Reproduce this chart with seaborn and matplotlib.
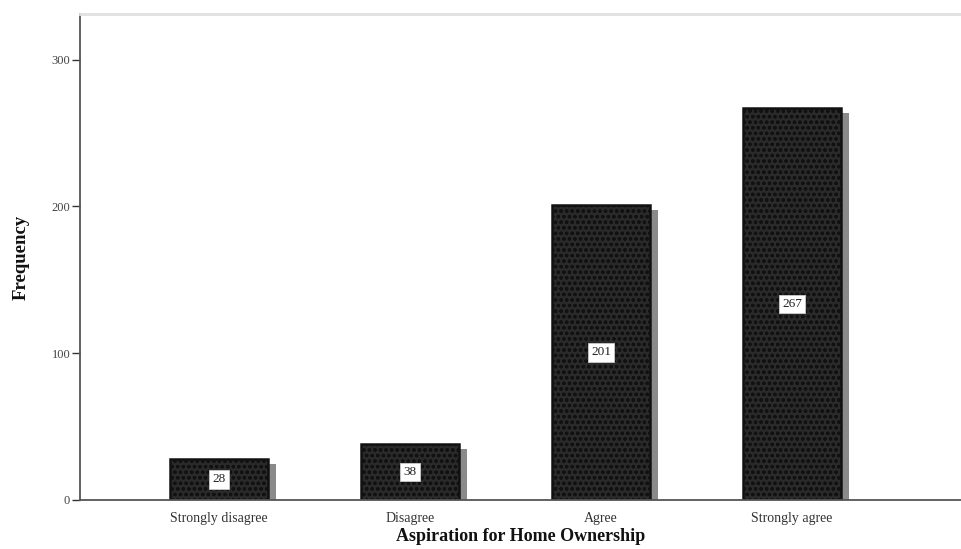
import matplotlib
matplotlib.use("Agg")
import matplotlib.pyplot as plt
import matplotlib.transforms as mtransforms
import seaborn as sns
import pandas as pd

categories = ["Strongly disagree", "Disagree", "Agree", "Strongly agree"]
frequencies = [28, 38, 201, 267]
y_ticks = [0, 100, 200, 300]

sns.set_theme(style="white")
plt.rcParams["font.family"] = ["Liberation Serif", "DejaVu Serif"]
plt.rcParams["hatch.color"] = "#7a7a7a"
plt.rcParams["hatch.linewidth"] = 0.9

df = pd.DataFrame({"category": categories, "freq": frequencies})

fig = plt.figure(figsize=(9.61, 5.49), dpi=100)
ax = fig.add_axes([0.0832, 0.0893, 0.9168, 0.8852])

# shadow bars
sns.barplot(data=df, x="category", y="freq", order=categories, color="#8c8c8c",
            width=0.513, ax=ax, saturation=1, zorder=1)
n_shadow = len(ax.patches)
off = mtransforms.offset_copy(ax.transData, fig=fig, x=8, y=-5, units="dots")
for p in ax.patches[:n_shadow]:
    p.set_transform(off)
    p.set_edgecolor("none")
    p.set_facecolor("#8a8a8a")

# main bars
sns.barplot(data=df, x="category", y="freq", order=categories, color="#2b2b2b",
            width=0.513, ax=ax, saturation=1, zorder=2)
for p in ax.patches[n_shadow:]:
    p.set_facecolor("#2a2a2a")
    p.set_edgecolor("#111111")
    p.set_linewidth(1.8)
    p.set_hatch("ooo")
    p.set_zorder(2)

for i, v in enumerate(frequencies):
    ax.text(i, v / 2, str(v), ha="center", va="center", fontsize=9.5, color="#222222",
            zorder=5, bbox=dict(boxstyle="square,pad=0.25", facecolor="white", edgecolor="#cccccc", linewidth=0.6))

ax.set_xlim(-0.728, 3.885)
ax.set_ylim(0, 331)
ax.set_yticks(y_ticks)
ax.set_yticklabels([str(t) for t in y_ticks], fontsize=9, color="#444444")
ax.tick_params(axis="y", direction="out", length=6, width=1.0, color="#333333", left=True, pad=1)
ax.tick_params(axis="x", length=0, labelsize=10, labelcolor="#333333", pad=9)

for s in ["left", "bottom"]:
    ax.spines[s].set_color("#555555")
    ax.spines[s].set_linewidth(1.3)
ax.spines["top"].set_color("#e0e0e0")
ax.spines["top"].set_linewidth(2.0)
ax.spines["right"].set_visible(False)

ax.set_xlabel("Aspiration for Home Ownership", fontsize=13, fontweight="bold", labelpad=2, color="#111111")
ax.set_ylabel("Frequency", fontsize=13.5, fontweight="bold", labelpad=16, color="#111111")

fig.savefig("out.png", dpi=100)
